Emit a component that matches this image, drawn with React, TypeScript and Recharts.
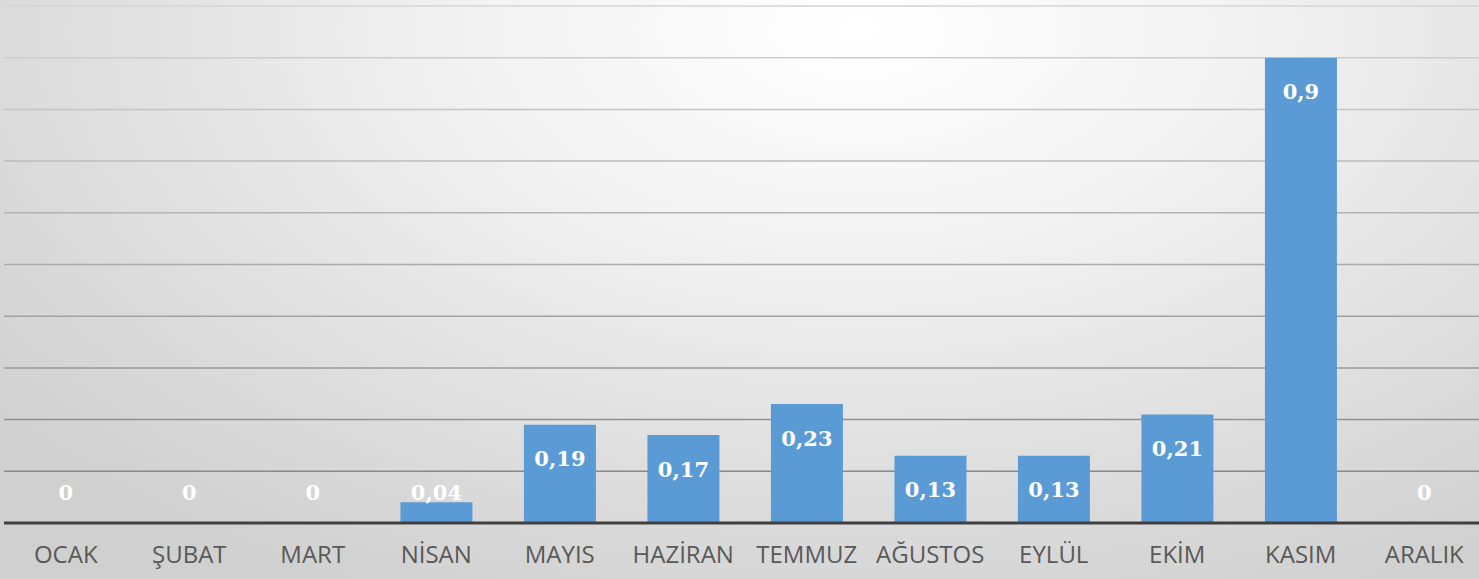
import React from 'react';
import { BarChart, Bar, XAxis, YAxis, CartesianGrid, LabelList } from 'recharts';

const months = ['OCAK', 'ŞUBAT', 'MART', 'NİSAN', 'MAYIS', 'HAZİRAN', 'TEMMUZ', 'AĞUSTOS', 'EYLÜL', 'EKİM', 'KASIM', 'ARALIK'];
const values = [0, 0, 0, 0.04, 0.19, 0.17, 0.23, 0.13, 0.13, 0.21, 0.9, 0];
const yTicks = [0, 0.1, 0.2, 0.3, 0.4, 0.5, 0.6, 0.7, 0.8, 0.9, 1.0];

const data = months.map((m, i) => ({ month: m, value: values[i] }));

const BarLabel = (props: any) => {
  const { x, y, width, height, value } = props;
  const cx = Number(x) + Number(width) / 2;
  const top = Number(y);
  const bottom = Number(y) + Number(height);
  const cy = Math.min(top + 34, bottom - 31);
  return (
    <text
      x={cx}
      y={cy}
      textAnchor="middle"
      dominantBaseline="central"
      fill="#ffffff"
      fontFamily="'DejaVu Serif', serif"
      fontWeight="bold"
      fontSize={21}
    >
      {String(value).replace('.', ',')}
    </text>
  );
};

export default function App() {
  return (
    <div
      style={{
        position: 'absolute',
        left: 0,
        top: 0,
        width: 1479,
        height: 579,
        overflow: 'hidden',
        background: 'radial-gradient(ellipse 75% 110% at 58% 5%, #ffffff 0%, #f2f2f2 35%, #dcdcdc 75%, #d0d0d0 100%)',
      }}
    >
      <BarChart
        width={1490}
        height={579}
        data={data}
        margin={{ top: 6, right: 4, left: 4, bottom: 26 }}
        barCategoryGap="21%"
      >
        <defs>
          <linearGradient id="gridGrad" gradientUnits="userSpaceOnUse" x1="0" y1="0" x2="0" y2="523">
            <stop offset="0%" stopColor="#d6d6d6" />
            <stop offset="100%" stopColor="#808080" />
          </linearGradient>
        </defs>
        <CartesianGrid vertical={false} stroke="url(#gridGrad)" strokeWidth={1.5} />
        <YAxis hide domain={[0, 1]} ticks={yTicks} />
        <XAxis
          dataKey="month"
          height={30}
          tickLine={false}
          axisLine={{ stroke: '#404040', strokeWidth: 3 }}
          tickMargin={17}
          tick={{ fill: '#595959', fontSize: 24, fontFamily: "'Open Sans', sans-serif" }}
          interval={0}
        />
        <Bar dataKey="value" fill="#5B9BD5" minPointSize={0.01} isAnimationActive={false}>
          <LabelList dataKey="value" content={BarLabel} />
        </Bar>
      </BarChart>
    </div>
  );
}
